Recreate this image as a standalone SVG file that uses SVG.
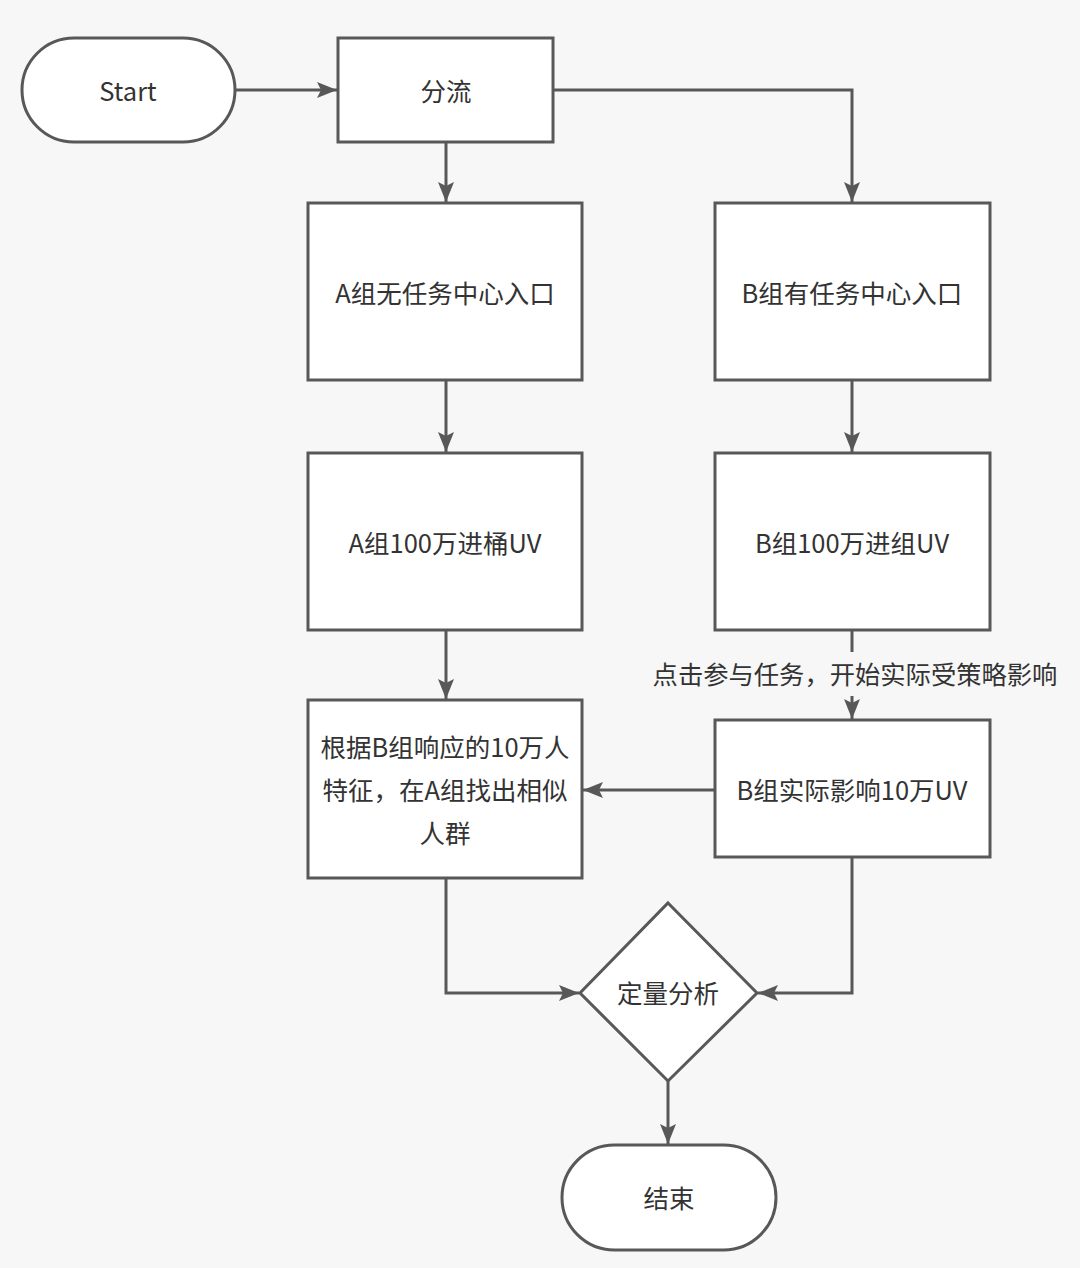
<svg xmlns="http://www.w3.org/2000/svg" width="1080" height="1268" viewBox="0 0 1080 1268">
<style>
.n{fill:#fff;stroke:#585858;stroke-width:3}
.c{fill:none;stroke:#585858;stroke-width:3}
text{font-family:"Noto Sans CJK SC","Noto Sans",sans-serif;font-size:25.5px;fill:#333;text-anchor:middle;dominant-baseline:central}
</style>
<defs>
<marker id="ah" viewBox="0 0 20 16" refX="20" refY="8" markerWidth="20" markerHeight="16" markerUnits="userSpaceOnUse" orient="auto">
<path d="M0,0 L20,8 L0,16 L4,8 z" fill="#585858"/>
</marker>
</defs>
<rect width="1080" height="1268" fill="#f7f7f7"/>
<g id="connectors">
<path class="c" d="M235,90 H337" marker-end="url(#ah)"/>
<path class="c" d="M446,142 V202" marker-end="url(#ah)"/>
<path class="c" d="M553,90 H852 V202" marker-end="url(#ah)"/>
<path class="c" d="M446,380 V452" marker-end="url(#ah)"/>
<path class="c" d="M852,380 V452" marker-end="url(#ah)"/>
<path class="c" d="M446,630 V699" marker-end="url(#ah)"/>
<path class="c" d="M852,630 V652"/>
<path class="c" d="M852,696 V719" marker-end="url(#ah)"/>
<path class="c" d="M715,790 H583" marker-end="url(#ah)"/>
<path class="c" d="M446,878 V993 H579" marker-end="url(#ah)"/>
<path class="c" d="M852,857 V993 H758" marker-end="url(#ah)"/>
<path class="c" d="M668,1081 V1144" marker-end="url(#ah)"/>
<text x="855" y="673" style="font-size:25.3px">点击参与任务，开始实际受策略影响</text>
</g>
<g id="start"><rect class="n" x="22" y="38" width="213" height="104" rx="52"/><text x="128" y="89" font-family="Noto Sans,sans-serif">Start</text></g>
<g id="fenliu"><rect class="n" x="338" y="38" width="215" height="104"/><text x="446" y="89">分流</text></g>
<g id="a-entry"><rect class="n" x="308" y="203" width="274" height="177"/><text x="445" y="291">A组无任务中心入口</text></g>
<g id="b-entry"><rect class="n" x="715" y="203" width="275" height="177"/><text x="852" y="291">B组有任务中心入口</text></g>
<g id="a-uv"><rect class="n" x="308" y="453" width="274" height="177"/><text x="445" y="541">A组100万进桶UV</text></g>
<g id="b-uv"><rect class="n" x="715" y="453" width="275" height="177"/><text x="852" y="541">B组100万进组UV</text></g>
<g id="a-similar"><rect class="n" x="308" y="700" width="274" height="178"/><text x="445" y="745">根据B组响应的10万人</text><text x="445" y="788">特征，在A组找出相似</text><text x="445" y="831">人群</text></g>
<g id="b-actual"><rect class="n" x="715" y="720" width="275" height="137"/><text x="852" y="788">B组实际影响10万UV</text></g>
<g id="analysis"><path class="n" d="M668,903 L757,993 L668,1081 L580,993 Z"/><text x="668" y="991">定量分析</text></g>
<g id="end"><rect class="n" x="562" y="1145" width="214" height="105" rx="52.5"/><text x="669" y="1196">结束</text></g>
</svg>
